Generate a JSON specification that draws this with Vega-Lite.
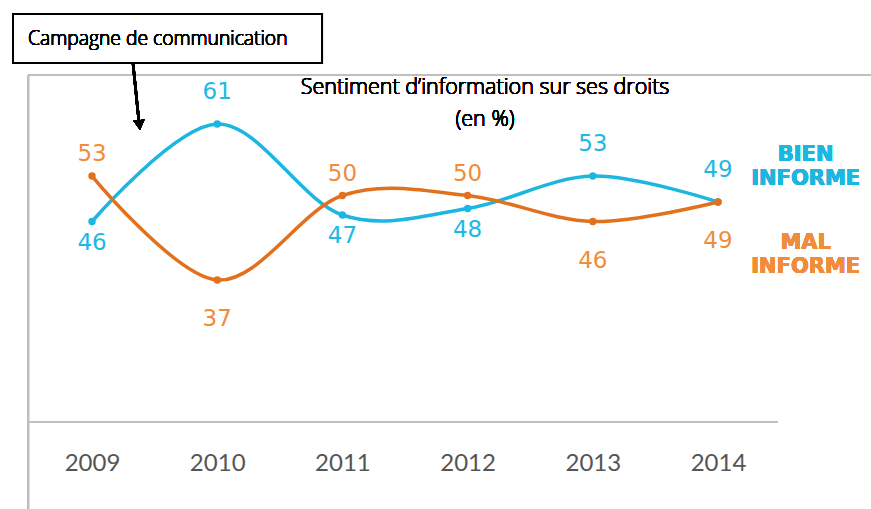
{
  "$schema": "https://vega.github.io/schema/vega-lite/v6.json",
  "width": 871,
  "height": 509,
  "padding": 0,
  "autosize": {"type": "none"},
  "background": "white",
  "config": {"view": {"stroke": null}},
  "data": {
    "values": [
      {"year": 2009, "series": "BIEN INFORME", "value": 46, "pos": "below"},
      {"year": 2010, "series": "BIEN INFORME", "value": 61, "pos": "above"},
      {"year": 2011, "series": "BIEN INFORME", "value": 47, "pos": "below"},
      {"year": 2012, "series": "BIEN INFORME", "value": 48, "pos": "below"},
      {"year": 2013, "series": "BIEN INFORME", "value": 53, "pos": "above"},
      {"year": 2014, "series": "BIEN INFORME", "value": 49, "pos": "above"},
      {"year": 2009, "series": "MAL INFORME", "value": 53, "pos": "above"},
      {"year": 2010, "series": "MAL INFORME", "value": 37, "pos": "below"},
      {"year": 2011, "series": "MAL INFORME", "value": 50, "pos": "above"},
      {"year": 2012, "series": "MAL INFORME", "value": 50, "pos": "above"},
      {"year": 2013, "series": "MAL INFORME", "value": 46, "pos": "below"},
      {"year": 2014, "series": "MAL INFORME", "value": 49, "pos": "below"}
    ]
  },
  "encoding": {
    "x": {
      "field": "year",
      "type": "quantitative",
      "scale": {"domain": [2008.265, 2015.222], "nice": false, "zero": false},
      "axis": {
        "orient": "bottom",
        "offset": -87,
        "values": [2009, 2010, 2011, 2012, 2013, 2014],
        "format": "d",
        "domain": false,
        "ticks": false,
        "grid": false,
        "title": null,
        "labelFont": "Lato",
        "labelFontSize": 24,
        "labelColor": "#555555",
        "labelBaseline": "middle",
        "labelPadding": 41,
        "labelFlush": false,
        "labelOverlap": false
      }
    },
    "y": {
      "field": "value",
      "type": "quantitative",
      "scale": {"domain": [1.77, 80.08], "nice": false, "zero": false},
      "axis": null
    }
  },
  "layer": [
    {
      "mark": {"type": "rule", "color": "#BFBFBF", "strokeWidth": 2},
      "encoding": {
        "x": {"datum": 2008.489, "type": "quantitative"},
        "x2": {"datum": 2015.3},
        "y": {"datum": 68.54, "type": "quantitative"}
      }
    },
    {
      "mark": {"type": "rule", "color": "#BFBFBF", "strokeWidth": 2},
      "encoding": {
        "x": {"datum": 2008.489, "type": "quantitative"},
        "y": {"datum": 68.54, "type": "quantitative"},
        "y2": {"datum": 1.0}
      }
    },
    {
      "mark": {"type": "rule", "color": "#BFBFBF", "strokeWidth": 2},
      "encoding": {
        "x": {"datum": 2008.489, "type": "quantitative"},
        "x2": {"datum": 2014.479},
        "y": {"datum": 15.16, "type": "quantitative"}
      }
    },
    {
      "mark": {"type": "line", "interpolate": "cardinal", "tension": 0, "strokeWidth": 3.5},
      "encoding": {
        "color": {
          "field": "series",
          "type": "nominal",
          "scale": {"domain": ["BIEN INFORME", "MAL INFORME"], "range": ["#1CB6E0", "#E2711D"]},
          "legend": null
        }
      }
    },
    {
      "mark": {"type": "point", "filled": true, "size": 55, "opacity": 1},
      "encoding": {
        "color": {"field": "series", "type": "nominal", "legend": null}
      }
    },
    {
      "transform": [{"filter": "datum.series === 'BIEN INFORME' && datum.pos === 'above'"}],
      "mark": {"type": "text", "font": "DejaVu Sans", "fontSize": 23, "color": "#21B9E3", "baseline": "middle", "dy": -32},
      "encoding": {"text": {"field": "value", "type": "quantitative"}}
    },
    {
      "transform": [{"filter": "datum.series === 'BIEN INFORME' && datum.pos === 'below'"}],
      "mark": {"type": "text", "font": "DejaVu Sans", "fontSize": 23, "color": "#21B9E3", "baseline": "middle", "dy": 21},
      "encoding": {"text": {"field": "value", "type": "quantitative"}}
    },
    {
      "transform": [{"filter": "datum.series === 'MAL INFORME' && datum.pos === 'above'"}],
      "mark": {"type": "text", "font": "DejaVu Sans", "fontSize": 23, "color": "#F08C3A", "baseline": "middle", "dy": -22},
      "encoding": {"text": {"field": "value", "type": "quantitative"}}
    },
    {
      "transform": [{"filter": "datum.series === 'MAL INFORME' && datum.pos === 'below'"}],
      "mark": {"type": "text", "font": "DejaVu Sans", "fontSize": 23, "color": "#F08C3A", "baseline": "middle", "dy": 39},
      "encoding": {"text": {"field": "value", "type": "quantitative"}}
    },
    {
      "mark": {"type": "text", "font": "Open Sans", "fontWeight": 300, "fontSize": 21.5, "color": "#000000", "align": "center", "baseline": "middle", "text": "Sentiment d\u2019information sur ses droits"},
      "encoding": {
        "x": {"datum": 2012.139, "type": "quantitative"},
        "y": {"datum": 66.54, "type": "quantitative"}
      }
    },
    {
      "mark": {"type": "text", "font": "Open Sans", "fontWeight": 300, "fontSize": 21.5, "color": "#000000", "align": "center", "baseline": "middle", "text": "(en %)"},
      "encoding": {
        "x": {"datum": 2012.139, "type": "quantitative"},
        "y": {"datum": 61.62, "type": "quantitative"}
      }
    },
    {
      "mark": {"type": "text", "font": "DejaVu Sans", "fontWeight": "bold", "fontSize": 21, "color": "#1CB6E0", "align": "center", "baseline": "alphabetic", "lineHeight": 24, "text": ["BIEN", "INFORME"]},
      "encoding": {
        "x": {"datum": 2014.7, "type": "quantitative"},
        "y": {"datum": 55.24, "type": "quantitative"}
      }
    },
    {
      "mark": {"type": "text", "font": "DejaVu Sans", "fontWeight": "bold", "fontSize": 21, "color": "#F08C3A", "align": "center", "baseline": "alphabetic", "lineHeight": 24, "text": ["MAL", "INFORME"]},
      "encoding": {
        "x": {"datum": 2014.7, "type": "quantitative"},
        "y": {"datum": 41.78, "type": "quantitative"}
      }
    },
    {
      "mark": {"type": "rect", "fill": "white", "stroke": "black", "strokeWidth": 2},
      "encoding": {
        "x": {"datum": 2008.369, "type": "quantitative"},
        "x2": {"datum": 2010.837},
        "y": {"datum": 77.93, "type": "quantitative"},
        "y2": {"datum": 70.39}
      }
    },
    {
      "mark": {"type": "text", "font": "Open Sans", "fontWeight": 300, "fontSize": 19.3, "color": "#000000", "align": "left", "baseline": "middle", "text": "Campagne de communication"},
      "encoding": {
        "x": {"datum": 2008.489, "type": "quantitative"},
        "y": {"datum": 74.08, "type": "quantitative"}
      }
    },
    {
      "mark": {"type": "rule", "color": "black", "strokeWidth": 2.5},
      "encoding": {
        "x": {"datum": 2009.327, "type": "quantitative"},
        "x2": {"datum": 2009.375},
        "y": {"datum": 70.39, "type": "quantitative"},
        "y2": {"datum": 61.31}
      }
    },
    {
      "mark": {"type": "point", "shape": "triangle-down", "filled": true, "color": "black", "opacity": 1, "size": 130, "angle": -6},
      "encoding": {
        "x": {"datum": 2009.379, "type": "quantitative"},
        "y": {"datum": 60.85, "type": "quantitative"}
      }
    }
  ]
}
